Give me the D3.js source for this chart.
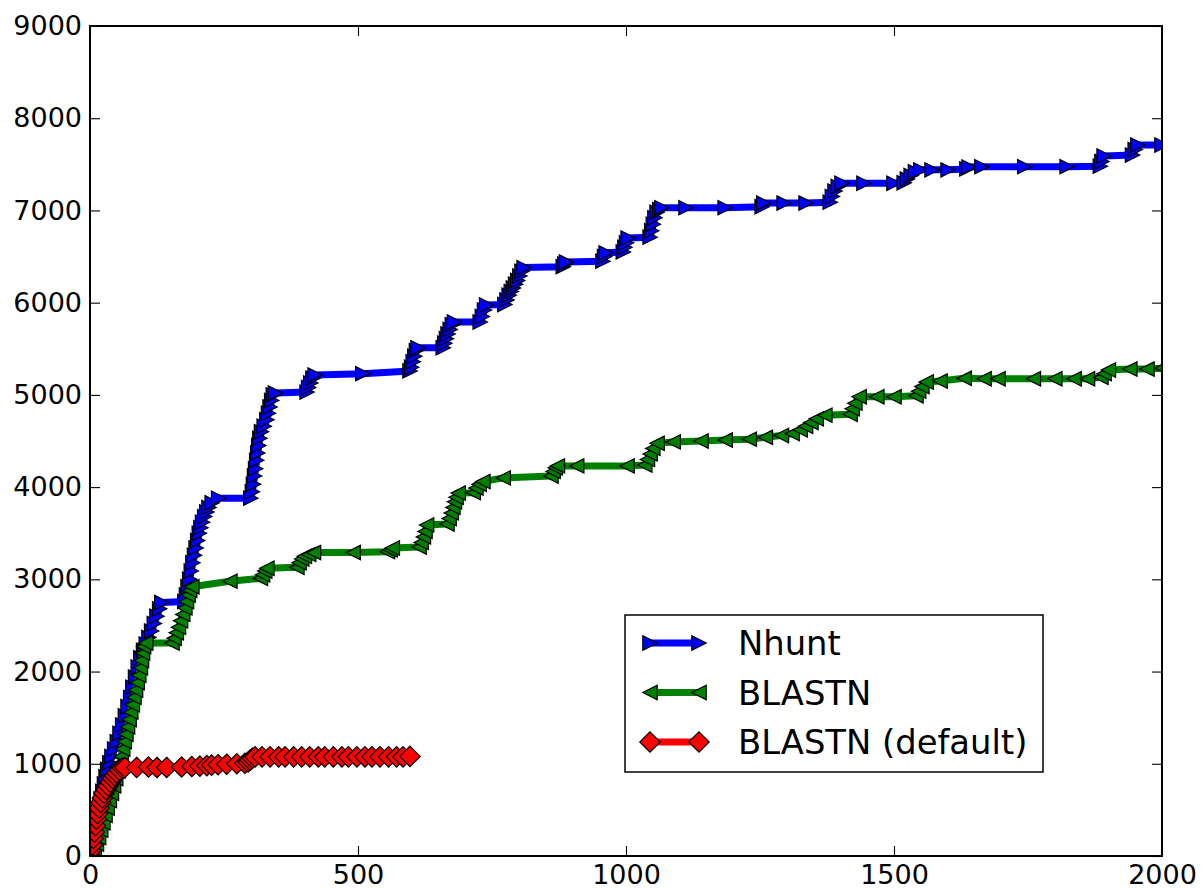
<!DOCTYPE html>
<html lang="en">
<head>
  <meta charset="utf-8">
  <script src="https://d3js.org/d3.v7.min.js"></script>
  <title>Nhunt vs BLASTN</title>
  <style>
    body { margin: 0; background: #fff; }
  </style>
</head>
<body>
<div id="chart"></div>
<script>

  // data: [x, y]
  const nhunt = [
    [0,0],[3,80],[6,170],[9,260],[12,350],[15,440],[18,530],[21,620],[24,700],[27,780],[30,860],[33,940],
    [37,1010],[41,1080],[46,1160],[51,1240],[56,1330],[61,1420],[66,1520],[71,1620],[76,1720],[80,1830],
    [85,1940],[90,2050],[95,2150],[100,2230],[105,2300],[110,2370],[115,2440],[120,2520],[125,2600],
    [130,2680],[134,2750],
    [177,2760],[180,2830],[183,2920],[186,3000],[189,3090],[192,3180],[195,3260],[198,3340],[201,3420],
    [204,3500],[207,3560],[210,3620],[214,3680],[218,3730],[222,3780],[228,3830],[240,3880],
    [300,3880],[303,3950],[305,4030],[307,4120],[309,4200],[311,4290],[313,4370],[315,4450],[317,4530],
    [320,4600],[325,4660],[330,4730],[333,4800],[336,4870],[339,4940],[342,5000],[346,5020],
    [405,5030],[408,5080],[412,5130],[416,5180],[420,5215],[509,5230],[597,5260],[600,5300],[603,5360],
    [606,5420],[609,5480],[612,5510],
    [659,5510],[662,5560],[665,5610],[668,5660],[672,5710],[676,5760],[680,5790],
    [728,5790],[732,5850],[736,5920],[740,5975],
    [774,5980],[778,6030],[782,6080],[786,6120],[790,6160],[794,6200],[798,6240],[802,6290],[806,6340],[810,6380],
    [883,6390],[886,6420],[889,6440],[957,6450],[960,6500],[963,6540],[995,6550],[998,6600],[1001,6650],[1004,6700],
    [1045,6710],[1048,6780],[1051,6850],[1054,6920],[1058,6980],[1063,7010],[1067,7030],
    [1112,7030],[1185,7030],[1254,7040],[1257,7080],[1295,7080],[1336,7080],
    [1381,7090],[1385,7150],[1390,7210],[1396,7260],[1403,7295],
    [1444,7295],[1500,7295],[1519,7300],[1525,7340],[1532,7380],[1540,7420],[1550,7440],
    [1571,7440],[1601,7440],[1636,7450],[1640,7470],[1664,7475],[1744,7475],[1823,7475],
    [1885,7480],[1888,7530],[1892,7590],[1945,7600],[1950,7660],[1955,7710],[2000,7710]
  ];

  const blastn = [
    [5,0],[8,60],[12,130],[16,200],[20,280],[24,360],[28,440],[32,520],[36,600],[40,680],[44,760],[48,840],
    [52,920],[55,1000],[58,1080],[61,1160],[64,1240],[67,1320],[70,1400],[73,1480],[76,1560],[79,1640],
    [82,1720],[85,1800],[88,1880],[91,1960],[94,2040],[96,2120],[98,2200],[100,2270],[104,2310],
    [153,2310],[157,2360],[161,2420],[165,2480],[169,2550],[173,2620],[177,2690],[180,2760],[183,2830],
    [186,2880],[190,2920],
    [261,2980],[318,3010],[322,3050],[326,3090],[330,3120],
    [386,3130],[390,3180],[395,3220],[400,3250],[408,3270],[417,3290],
    [491,3290],[555,3300],[560,3320],[564,3340],
    [614,3350],[618,3400],[622,3460],[625,3520],[628,3590],
    [666,3600],[670,3660],[674,3720],[677,3780],[680,3840],[683,3890],[687,3935],
    [715,3940],[720,3990],[726,4030],[733,4060],[771,4100],
    [860,4120],[864,4170],[868,4210],[872,4230],[908,4230],[1002,4230],
    [1035,4240],[1040,4300],[1045,4360],[1050,4420],[1058,4475],[1088,4490],
    [1140,4500],[1185,4510],[1230,4520],[1260,4540],[1290,4560],[1310,4580],
    [1325,4620],[1335,4660],[1345,4700],[1355,4740],[1371,4780],
    [1418,4790],[1422,4850],[1427,4910],[1435,4980],[1468,4980],[1500,4980],
    [1541,4990],[1546,5040],[1552,5090],[1560,5140],[1586,5150],[1631,5180],[1668,5175],[1694,5175],
    [1760,5175],[1800,5175],[1836,5175],[1861,5175],[1886,5190],[1892,5230],[1900,5270],
    [1940,5280],[1972,5280],[2000,5290]
  ];

  const blastnDefault = [
    [0,0],[2,60],[4,120],[6,190],[8,260],[10,330],[12,400],[14,460],[17,520],[20,580],[23,630],[26,680],
    [30,720],[34,760],[38,800],[42,840],[46,870],[50,900],[55,930],[60,955],
    [65,960],[87,960],[109,965],[125,960],[143,960],[171,965],[190,970],[205,975],[218,980],[227,985],
    [239,990],[255,995],[274,1000],[289,1005],[295,1020],[299,1040],[303,1060],[308,1075],
    [321,1075],[336,1075],[352,1075],[364,1075],[380,1075],[395,1075],[410,1075],[426,1075],[438,1075],
    [454,1075],[470,1075],[482,1075],[498,1075],[513,1075],[526,1075],[541,1075],[557,1075],[572,1075],
    [584,1075],[597,1080]
  ];

  const seriesNames = ["Nhunt", "BLASTN", "BLASTN (default)"];
  const seriesColors = ["#0000ff", "#008000", "#ff0000"];
  const xTicks = [0, 500, 1000, 1500, 2000];
  const yTicks = [0, 1000, 2000, 3000, 4000, 5000, 6000, 7000, 8000, 9000];

  // marker shapes (matplotlib '>', '<', 'D')
  const markers = {
    right: s => `M${-s},${-s}L${s},0L${-s},${s}Z`,
    left: s => `M${s},${-s}L${-s},0L${s},${s}Z`,
    diamond: s => `M0,${-s}L${s},0L0,${s}L${-s},0Z`
  };

  const series = [
    { name: seriesNames[0], data: nhunt, color: seriesColors[0], shape: markers.right, size: 7.2 },
    { name: seriesNames[1], data: blastn, color: seriesColors[1], shape: markers.left, size: 7.2 },
    { name: seriesNames[2], data: blastnDefault, color: seriesColors[2], shape: markers.diamond, size: 10.2 }
  ];

  const margin = { top: 26, right: 39, bottom: 32, left: 90 },
    width = 1201 - margin.left - margin.right,
    height = 888 - margin.top - margin.bottom;

  const svg = d3.select("#chart")
    .append("svg")
    .attr("width", 1201)
    .attr("height", 888)
    .style("font-family", "'DejaVu Sans', sans-serif");

  const g = svg.append("g")
    .attr("transform", `translate(${margin.left},${margin.top})`);

  const x = d3.scaleLinear().domain([0, 2000]).range([0, width]);
  const y = d3.scaleLinear().domain([0, 9000]).range([height, 0]);

  g.append("clipPath").attr("id", "plot-clip")
    .append("rect").attr("width", width).attr("height", height);

  const plot = g.append("g").attr("clip-path", "url(#plot-clip)");

  const line = d3.line().x(d => x(d[0])).y(d => y(d[1]));

  series.forEach(s => {
    plot.append("path")
      .datum(s.data)
      .attr("d", line)
      .attr("fill", "none")
      .attr("stroke", s.color)
      .attr("stroke-width", 7)
      .attr("stroke-linejoin", "round");

    plot.append("g")
      .selectAll("path")
      .data(s.data)
      .join("path")
      .attr("transform", d => `translate(${x(d[0])},${y(d[1])})`)
      .attr("d", s.shape(s.size))
      .attr("fill", s.color)
      .attr("stroke", "#000")
      .attr("stroke-width", 1.2);
  });

  // axes, ticks inward on all four sides
  function styleAxis(sel) {
    sel.select(".domain").remove();
    sel.selectAll(".tick line").attr("stroke", "#000").attr("stroke-width", 1.1);
    sel.selectAll("text").attr("fill", "#000");
    sel.attr("font-size", 27).attr("font-family", "'DejaVu Sans', sans-serif");
  }

  g.append("g")
    .attr("transform", `translate(0,${height})`)
    .call(d3.axisBottom(x).tickValues(xTicks).tickSize(-10).tickSizeOuter(0).tickPadding(9).tickFormat(d3.format("d")))
    .call(styleAxis);

  g.append("g")
    .call(d3.axisLeft(y).tickValues(yTicks).tickSize(-10).tickSizeOuter(0).tickPadding(8).tickFormat(d3.format("d")))
    .call(styleAxis);

  g.append("g")
    .call(d3.axisTop(x).tickValues(xTicks).tickSize(-10).tickSizeOuter(0).tickFormat(""))
    .call(styleAxis);

  g.append("g")
    .attr("transform", `translate(${width},0)`)
    .call(d3.axisRight(y).tickValues(yTicks).tickSize(-10).tickSizeOuter(0).tickFormat(""))
    .call(styleAxis);

  g.append("rect")
    .attr("width", width)
    .attr("height", height)
    .attr("fill", "none")
    .attr("stroke", "#000")
    .attr("stroke-width", 2);

  // legend
  const legend = svg.append("g").attr("transform", "translate(625,615)");
  legend.append("rect")
    .attr("width", 418)
    .attr("height", 157)
    .attr("fill", "#fff")
    .attr("stroke", "#000")
    .attr("stroke-width", 1.5);

  series.forEach((s, i) => {
    const ly = 28 + i * 49.5;
    const row = legend.append("g").attr("transform", `translate(0,${ly})`);
    row.append("line")
      .attr("x1", 25).attr("x2", 74)
      .attr("stroke", s.color)
      .attr("stroke-width", 7);
    [25, 74].forEach(mx => {
      row.append("path")
        .attr("transform", `translate(${mx},0)`)
        .attr("d", s.shape(s.size))
        .attr("fill", s.color)
        .attr("stroke", "#000")
        .attr("stroke-width", 1.2);
    });
    row.append("text")
      .attr("x", 113)
      .attr("y", 12)
      .attr("font-size", 33.8)
      .attr("fill", "#000")
      .text(s.name);
  });

</script>
</body>
</html>
